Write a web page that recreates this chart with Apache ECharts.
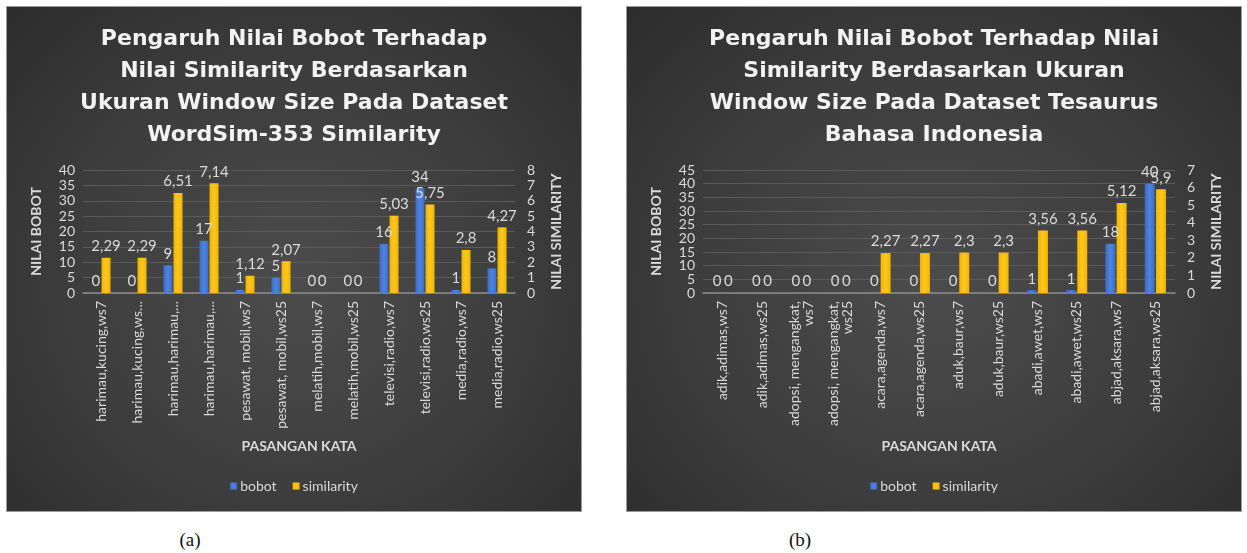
<!DOCTYPE html>
<html>
<head>
<meta charset="utf-8">
<script src="https://cdn.jsdelivr.net/npm/echarts@6/dist/echarts.min.js"></script>
<style>
  html, body { margin: 0; padding: 0; background: #fff; }
  body { width: 1247px; height: 553px; position: relative; overflow: hidden; }
  .panel {
    position: absolute; top: 7px; height: 504px;
    background: radial-gradient(ellipse at 50% 55%, #4c4c4c 0%, #3d3d3d 55%, #2c2c2c 100%);
    box-shadow: 0 0 0 1px #9a9a9a;
  }
  #chartA { left: 7px; width: 574px; }
  #chartB { left: 627px; width: 614px; }
  .cap {
    position: absolute; top: 529px; font-family: "Liberation Serif", serif;
    font-size: 19px; color: #111; width: 40px; text-align: center;
  }
</style>
</head>
<body>
<div id="chartA" class="panel"></div>
<div id="chartB" class="panel"></div>
<div class="cap" style="left:170px">(a)</div>
<div class="cap" style="left:780px">(b)</div>
<script>
// chart (a) - WordSim-353
const titleA = 'Pengaruh Nilai Bobot Terhadap\nNilai Similarity Berdasarkan\nUkuran Window Size Pada Dataset\nWordSim-353 Similarity';
const catsA = ['harimau,kucing,ws7', 'harimau,kucing,ws...', 'harimau,harimau,...', 'harimau,harimau,...',
  'pesawat, mobil,ws7', 'pesawat, mobil,ws25', 'melatih,mobil,ws7', 'melatih,mobil,ws25',
  'televisi,radio,ws7', 'televisi,radio,ws25', 'media,radio,ws7', 'media,radio,ws25'];
const bobotA = [0, 0, 9, 17, 1, 5, 0, 0, 16, 34, 1, 8];
const simA = [2.29, 2.29, 6.51, 7.14, 1.12, 2.07, 0, 0, 5.03, 5.75, 2.8, 4.27];
const leftTicksA = [0, 5, 10, 15, 20, 25, 30, 35, 40];
const rightTicksA = [0, 1, 2, 3, 4, 5, 6, 7, 8];

// chart (b) - Tesaurus Bahasa Indonesia
const titleB = 'Pengaruh Nilai Bobot Terhadap Nilai\nSimilarity Berdasarkan Ukuran\nWindow Size Pada Dataset Tesaurus\nBahasa Indonesia';
const catsB = ['adik,adimas,ws7', 'adik,adimas,ws25', 'adopsi, mengangkat,\nws7', 'adopsi, mengangkat,\nws25',
  'acara,agenda,ws7', 'acara,agenda,ws25', 'aduk,baur,ws7', 'aduk,baur,ws25',
  'abadi,awet,ws7', 'abadi,awet,ws25', 'abjad,aksara,ws7', 'abjad,aksara,ws25'];
const bobotB = [0, 0, 0, 0, 0, 0, 0, 0, 1, 1, 18, 40];
const simB = [0, 0, 0, 0, 2.27, 2.27, 2.3, 2.3, 3.56, 3.56, 5.12, 5.9];
const leftTicksB = [0, 5, 10, 15, 20, 25, 30, 35, 40, 45];
const rightTicksB = [0, 1, 2, 3, 4, 5, 6, 7];

const textColor = '#d9d9d9';
const font = 'Lato, "Open Sans", sans-serif';

const buildOption = (title, cats, bobot, sim, leftTicks, rightTicks, barWidth) => {
  const dataLabel = {
    show: true,
    position: 'top',
    distance: 4,
    color: textColor,
    fontFamily: font,
    fontSize: 15,
    formatter: (p) => String(p.value).replace('.', ',')
  };
  const tickLabel = (ticks, margin) => ({
    color: textColor,
    fontSize: 14,
    fontFamily: font,
    margin: margin,
    customValues: ticks,
    showMinLabel: true,
    showMaxLabel: true
  });
  const leftMax = leftTicks[leftTicks.length - 1];
  const leftStep = leftTicks[1] - leftTicks[0];
  // the left labels are split over two overlaid axes so that the dense
  // ticks of (b) are not dropped by the label overlap check
  const leftEven = leftTicks.filter((v, i) => i % 2 === 0);
  const leftOdd = leftTicks.filter((v, i) => i % 2 === 1);
  return {
    textStyle: { fontFamily: font },
    title: {
      text: title,
      left: 'center',
      top: 11,
      textStyle: {
        color: '#f2f2f2',
        fontFamily: '"DejaVu Sans", sans-serif',
        fontWeight: 'bold',
        fontSize: 22,
        lineHeight: 32
      }
    },
    legend: {
      bottom: 13,
      left: 'center',
      itemWidth: 7,
      itemHeight: 7,
      itemGap: 16,
      icon: 'rect',
      textStyle: { color: textColor, fontSize: 14, fontFamily: font, padding: [0, 0, 0, -2] },
      data: ['bobot', 'similarity']
    },
    grid: { left: 76, right: 66, top: 163, bottom: 218 },
    xAxis: {
      type: 'category',
      data: cats,
      name: 'PASANGAN KATA',
      nameLocation: 'middle',
      nameGap: 146,
      nameTextStyle: { color: textColor, fontWeight: 'bold', fontSize: 14, fontFamily: font },
      axisLine: { lineStyle: { color: '#8c8c8c', width: 1.5 } },
      axisTick: { show: false },
      axisLabel: { rotate: 90, interval: 0, color: textColor, fontSize: 14, fontFamily: font, margin: 8, align: 'right' }
    },
    yAxis: [
      {
        type: 'value',
        position: 'left',
        min: 0,
        max: leftMax,
        interval: leftStep,
        name: 'NILAI BOBOT',
        nameLocation: 'middle',
        nameRotate: 90,
        nameGap: 40,
        nameTextStyle: { color: textColor, fontWeight: 'bold', fontSize: 14, fontFamily: font },
        axisLine: { show: false },
        axisTick: { show: false },
        axisLabel: tickLabel(leftEven, 8),
        splitLine: { lineStyle: { color: '#5a5a5a', width: 1 } }
      },
      {
        type: 'value',
        position: 'right',
        min: 0,
        max: rightTicks[rightTicks.length - 1],
        interval: rightTicks[1] - rightTicks[0],
        name: 'NILAI SIMILARITY',
        nameLocation: 'middle',
        nameRotate: 90,
        nameGap: 34,
        nameTextStyle: { color: textColor, fontWeight: 'bold', fontSize: 14, fontFamily: font },
        axisLine: { show: false },
        axisTick: { show: false },
        axisLabel: tickLabel(rightTicks, 12),
        splitLine: { show: false }
      },
      {
        type: 'value',
        position: 'left',
        offset: 0,
        min: 0,
        max: leftMax,
        interval: leftStep,
        axisLine: { show: false },
        axisTick: { show: false },
        axisLabel: tickLabel(leftOdd, 8),
        splitLine: { show: false }
      }
    ],
    series: [
      {
        name: 'bobot',
        type: 'bar',
        yAxisIndex: 0,
        barWidth: barWidth,
        barGap: '12%',
        itemStyle: {
          color: new echarts.graphic.LinearGradient(0, 0, 1, 0, [
            { offset: 0, color: '#3d6bc4' },
            { offset: 0.5, color: '#4f84e0' },
            { offset: 1, color: '#3d6bc4' }
          ])
        },
        label: dataLabel,
        data: bobot
      },
      {
        name: 'similarity',
        type: 'bar',
        yAxisIndex: 1,
        barWidth: barWidth,
        itemStyle: {
          color: new echarts.graphic.LinearGradient(0, 0, 1, 0, [
            { offset: 0, color: '#f0b400' },
            { offset: 0.5, color: '#ffc820' },
            { offset: 1, color: '#f0b400' }
          ])
        },
        label: dataLabel,
        data: sim
      }
    ]
  };
};

const chartA = echarts.init(document.getElementById('chartA'), null, { renderer: 'canvas' });
chartA.setOption(buildOption(titleA, catsA, bobotA, simA, leftTicksA, rightTicksA, 9));

const chartB = echarts.init(document.getElementById('chartB'), null, { renderer: 'canvas' });
chartB.setOption(buildOption(titleB, catsB, bobotB, simB, leftTicksB, rightTicksB, 10));
</script>
</body>
</html>
